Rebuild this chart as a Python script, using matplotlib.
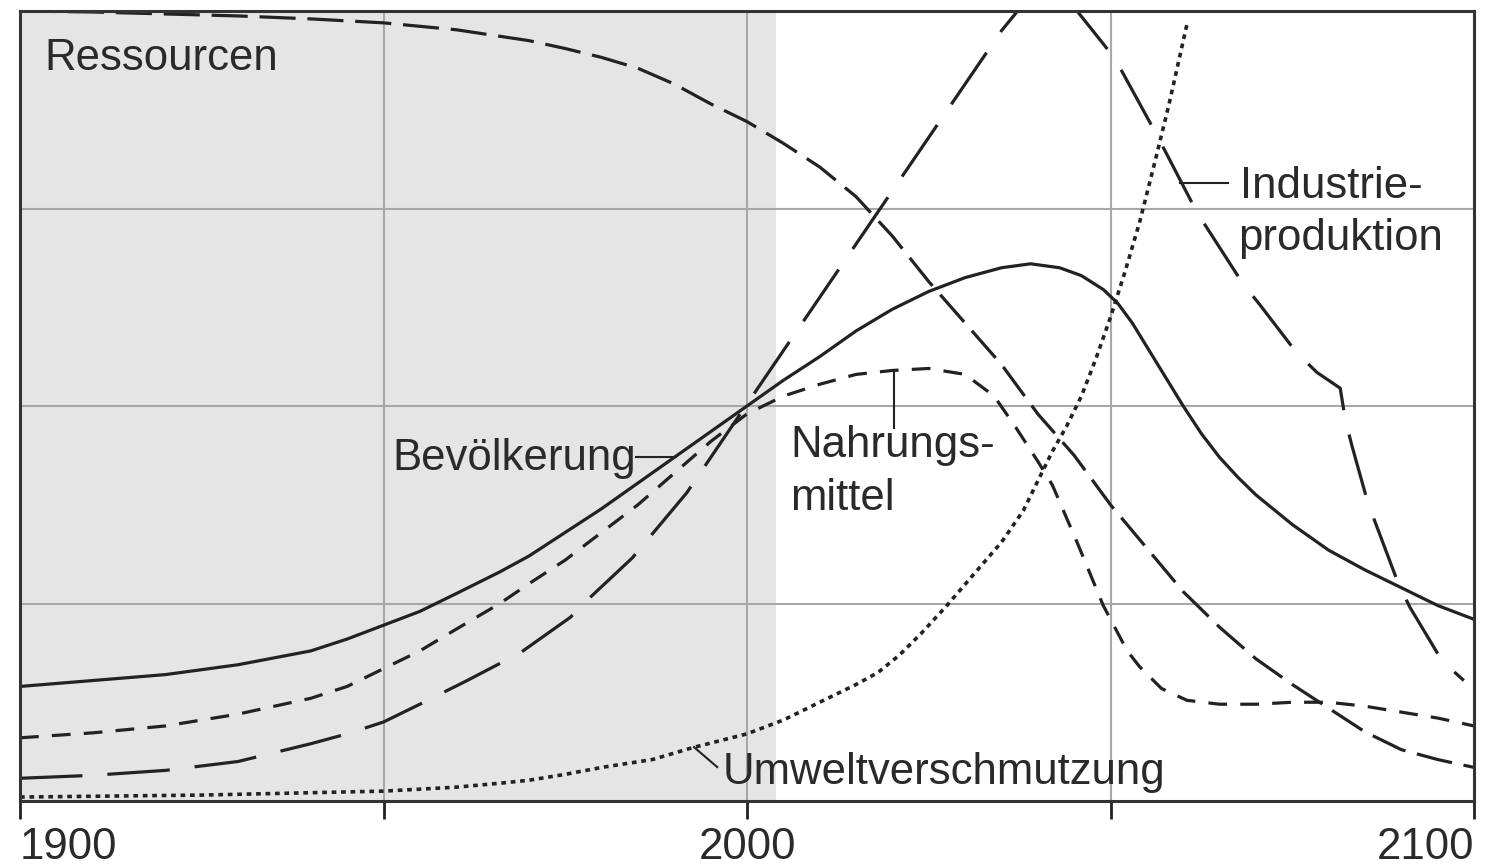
import numpy as np
import matplotlib
matplotlib.use("Agg")
import matplotlib.pyplot as plt

plt.rcParams['font.family'] = ['Liberation Sans', 'DejaVu Sans']
plt.rcParams['lines.scale_dashes'] = False

# values (x = year, y = relative level, 0..4)
bev_years = [1900, 1910, 1920, 1930, 1940, 1945, 1950, 1955, 1960, 1966, 1970, 1975, 1980,
             1985, 1990, 1995, 2000, 2005, 2010, 2015, 2020, 2025, 2030, 2035, 2039, 2043,
             2046, 2049, 2051, 2053, 2055, 2057.5, 2060, 2062.5, 2065, 2067.5, 2070, 2075,
             2080, 2085, 2090, 2095, 2100]
bev_vals = [0.58, 0.61, 0.64, 0.69, 0.76, 0.82, 0.89, 0.96, 1.05, 1.16, 1.24, 1.36, 1.48,
            1.61, 1.74, 1.87, 2.00, 2.13, 2.25, 2.38, 2.49, 2.58, 2.65, 2.70, 2.72, 2.70,
            2.66, 2.59, 2.52, 2.42, 2.30, 2.15, 2.00, 1.86, 1.74, 1.64, 1.55, 1.40,
            1.27, 1.17, 1.08, 0.99, 0.92]

nahr_years = [1900, 1910, 1920, 1930, 1940, 1945, 1950, 1955, 1960, 1966, 1970, 1975, 1980,
              1985, 1990, 1995, 2000, 2005, 2010, 2015, 2020, 2025, 2030, 2034, 2037, 2040,
              2042, 2045.4, 2049, 2052.3, 2054, 2057, 2060.5, 2065, 2070, 2075, 2080, 2085,
              2090, 2095, 2100]
nahr_vals = [0.32, 0.345, 0.38, 0.44, 0.52, 0.58, 0.67, 0.76, 0.87, 1.00, 1.10, 1.22, 1.36,
             1.50, 1.66, 1.82, 1.96, 2.05, 2.11, 2.16, 2.18, 2.19, 2.16, 2.05, 1.89, 1.72,
             1.60, 1.31, 0.99, 0.76, 0.68, 0.57, 0.51, 0.49, 0.49, 0.50, 0.50, 0.48,
             0.45, 0.42, 0.38]

ind_years = [1900, 1910, 1920, 1930, 1940, 1945, 1950, 1955, 1961.5, 1968.8, 1975.7, 1978.4,
             1984.2, 1986.7, 1991.7, 2000, 2005, 2010, 2015, 2020, 2025, 2030, 2035, 2039,
             2041.5, 2043.5, 2045.4, 2050.6, 2056.4, 2061.9, 2068.2, 2070.6, 2075.6, 2078.4,
             2081.6, 2082.3, 2083.2, 2085.4, 2089.6, 2091.2, 2095.6, 2098.6]
ind_vals = [0.115, 0.13, 0.155, 0.20, 0.29, 0.34, 0.40, 0.49, 0.61, 0.75, 0.93, 1.03,
            1.23, 1.34, 1.56, 2.01, 2.28, 2.55, 2.82, 3.09, 3.36, 3.63, 3.90, 4.08,
            4.16, 4.12, 4.00, 3.76, 3.37, 2.98, 2.62, 2.51, 2.27, 2.17,
            2.09, 1.93, 1.80, 1.51, 1.10, 0.98, 0.71, 0.61]

res_years = [1900, 1910, 1920, 1930, 1940, 1950, 1960, 1970, 1975, 1980, 1985, 1990, 1995,
             2000, 2005, 2010, 2015, 2020, 2025, 2030, 2035, 2040, 2045, 2050, 2055, 2060,
             2065, 2070, 2075, 2080, 2085, 2090, 2095, 2100]
res_vals = [4.0, 3.995, 3.985, 3.975, 3.96, 3.94, 3.905, 3.85, 3.81, 3.765, 3.71, 3.63, 3.53,
            3.44, 3.33, 3.21, 3.06, 2.86, 2.63, 2.42, 2.21, 1.96, 1.75, 1.50, 1.28, 1.06,
            0.88, 0.72, 0.59, 0.47, 0.35, 0.26, 0.21, 0.17]

umw_years = [1900, 1925, 1950, 1960, 1966, 1970, 1975, 1980, 1987, 1992.5, 2000, 2005, 2010,
             2015, 2018, 2021, 2024, 2027.5, 2031, 2035, 2038, 2040, 2042, 2044, 2046, 2048,
             2050, 2052, 2054, 2056, 2058, 2060.5]
umw_vals = [0.02, 0.03, 0.05, 0.07, 0.09, 0.105, 0.135, 0.17, 0.21, 0.27, 0.34, 0.41, 0.50,
            0.59, 0.65, 0.74, 0.85, 0.99, 1.14, 1.31, 1.47, 1.62, 1.77, 1.90, 2.05, 2.24,
            2.45, 2.68, 2.93, 3.22, 3.52, 3.93]

tick_years = [1900, 1950, 2000, 2050, 2100]
tick_labels = ['1900', '', '2000', '', '2100']

fig = plt.figure(figsize=(14.92, 8.68), dpi=100)
ax = fig.add_axes([20 / 1492, 1 - 801 / 868, 1454 / 1492, 790 / 868])

ax.axvspan(1900, 2004, color='#e5e5e5', lw=0, zorder=0.1)
ax.set_axisbelow(True)
ax.grid(True, color='#a8a8a8', lw=1.5)

lc = '#222222'
lw = 2.3
ax.plot(bev_years, bev_vals, color=lc, lw=lw)
ax.plot(nahr_years, nahr_vals, color=lc, lw=lw, dashes=(13.5, 9.5))
ax.plot(ind_years, ind_vals, color=lc, lw=lw, dashes=(45, 18))
ax.plot(res_years, res_vals, color=lc, lw=lw, dashes=(26, 8.5))
ax.plot(umw_years, umw_vals, color=lc, lw=2.6, dashes=(3.4, 3.4))

# leader lines
llw = 1.5
ax.plot([1984.7, 1990.2], [1.742, 1.742], color=lc, lw=llw)
ax.plot([2020.2, 2020.2], [2.17, 1.89], color=lc, lw=llw)
ax.plot([2059.6, 2066.2], [3.13, 3.13], color=lc, lw=llw)
ax.plot([1992.7, 1995.9], [0.273, 0.172], color=lc, lw=llw)

fs = 31.5
tc = '#2a2a2a'
ax.text(1903.4, 3.70, 'Ressourcen', fontsize=fs, color=tc, va='baseline', ha='left')
ax.text(1951.2, 1.676, 'Bevölkerung', fontsize=fs, color=tc, va='baseline', ha='left')
ax.text(2005.9, 1.742, 'Nahrungs-', fontsize=fs, color=tc, va='baseline', ha='left')
ax.text(2005.9, 1.473, 'mittel', fontsize=fs, color=tc, va='baseline', ha='left')
ax.text(2067.8, 3.053, 'Industrie-', fontsize=fs, color=tc, va='baseline', ha='left')
ax.text(2067.5, 2.79, 'produktion', fontsize=fs, color=tc, va='baseline', ha='left')
ax.text(1996.6, 0.086, 'Umweltverschmutzung', fontsize=fs, color=tc, va='baseline', ha='left')

ax.set_xlim(1900, 2100)
ax.set_ylim(0, 4)
ax.set_yticks([1, 2, 3])
ax.tick_params(axis='y', length=0, labelleft=False)
ax.set_xticks(tick_years, tick_labels)
ax.tick_params(axis='x', length=13, width=2, color='#222222', pad=6,
               labelsize=fs, labelcolor=tc)
xl = ax.get_xticklabels()
xl[0].set_ha('left')
xl[-1].set_ha('right')

for sp in ax.spines.values():
    sp.set_color('#333333')
    sp.set_linewidth(2.2)

fig.savefig('out.png', dpi=100)
